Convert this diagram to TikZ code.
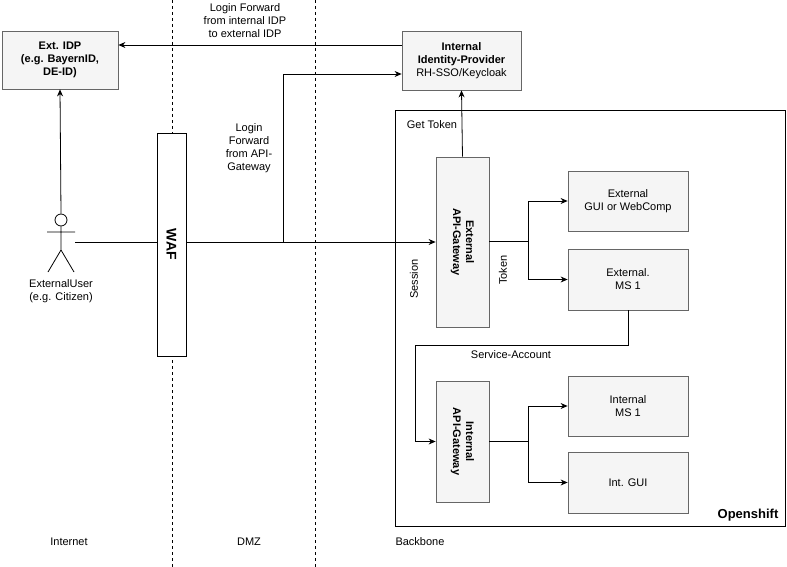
\documentclass[tikz,border=0pt]{standalone}
\usepackage{fontspec}
\setmainfont{Liberation Sans}
\usetikzlibrary{arrows.meta}
\begin{document}
\begin{tikzpicture}[x=1pt,y=-1pt,font=\fontsize{11}{13}\selectfont,line width=0.8pt,
  box/.style={draw=black!60,fill=black!4,align=center,inner sep=0pt},
  conn/.style={-{Stealth[length=7pt,width=6pt]}},
  zone/.style={dashed,black}]
\useasboundingbox (0,0) rectangle (787,567);

% zones
\draw[zone] (172,0) -- (172,567);
\draw[zone] (315,0) -- (315,567);
\node (inet) at (69,542) {Internet};
\node (dmz) at (249,542) {DMZ};
\node (bb) at (420,542) {Backbone};

% openshift area
\draw (395,110) rectangle (785,526);
\node[font=\fontsize{13}{15}\selectfont\bfseries] (os) at (748,515) {Openshift};

% identity providers
\node[box,minimum width=116,minimum height=58] (extidp) at (60,60) {\textbf{Ext. IDP}\\\textbf{(e.g. BayernID,}\\\textbf{DE-ID)}};
\node[box,minimum width=119,minimum height=59] (intidp) at (461.5,60.5) {\textbf{Internal}\\\textbf{Identity-Provider}\\RH-SSO/Keycloak};

% actor
\node[draw,circle,minimum size=12,inner sep=0pt] (head) at (61,220) {};
\draw (head.south) -- (61,250) (47,232) -- (75,232) (61,250) -- (48,272) (61,250) -- (74,272);
\coordinate (usr) at (75,242);
\node[align=center] (ulbl) at (61,291) {ExternalUser\\(e.g. Citizen)};

% WAF
\node[draw,fill=white,minimum width=29,minimum height=223,inner sep=0pt] (waf) at (171.5,244.5) {};
\node[rotate=-90,font=\fontsize{14}{16}\selectfont\bfseries] at (waf.center) {WAF};

% gateways
\node[box,minimum width=53,minimum height=170] (extgw) at (462.5,242) {};
\node[rotate=-90,align=center,font=\fontsize{11}{13}\selectfont\bfseries] at (extgw.center) {External\\API-Gateway};
\node[box,minimum width=53,minimum height=121] (intgw) at (462.5,441.5) {};
\node[rotate=-90,align=center,font=\fontsize{11}{13}\selectfont\bfseries] at (intgw.center) {Internal\\API-Gateway};

% services
\node[box,minimum width=120,minimum height=60] (extgui) at (628,201) {External\\GUI or WebComp};
\node[box,minimum width=120,minimum height=61] (extms) at (628,279.5) {External.\\MS 1};
\node[box,minimum width=120,minimum height=60] (intms) at (628,406) {Internal\\MS 1};
\node[box,minimum width=120,minimum height=61] (intgui) at (628,482.5) {Int. GUI};

% connectors
\draw[conn] (intidp.west |- 0,45) -- (extidp.east |- 0,45);
\node[align=center] (lf1) at (245,21) {Login Forward\\from internal IDP\\to external IDP};
\draw[conn] (61,213.5) -- (extidp.south);
\draw (usr) -- (waf.west |- usr);
\draw[conn] (waf.east |- usr) -- (extgw.west |- usr);
\draw[conn] (283,242) -- (283,74) -- (intidp.west |- 0,74);
\node[align=center] (lf2) at (249,148) {Login\\Forward\\from API-\\Gateway};
\draw[conn] (extgw.north) -- (intidp.south);
\node (gt) at (432,125) {Get Token};
\node[rotate=90] (sess) at (414,279) {Session};
\node[rotate=90] (tok) at (503,270) {Token};
\draw (extgw.east |- 0,241) -- (528,241);
\draw[conn] (528,241) |- (extgui.west);
\draw[conn] (528,241) |- (extms.west);
\draw[conn] (extms.south) -- (628,345) -- (415,345) |- (intgw.west);
\node (sa) at (511,355) {Service-Account};
\draw (intgw.east) -- (528,441.5);
\draw[conn] (528,441.5) |- (intms.west);
\draw[conn] (528,441.5) |- (intgui.west);
\end{tikzpicture}
\end{document}
